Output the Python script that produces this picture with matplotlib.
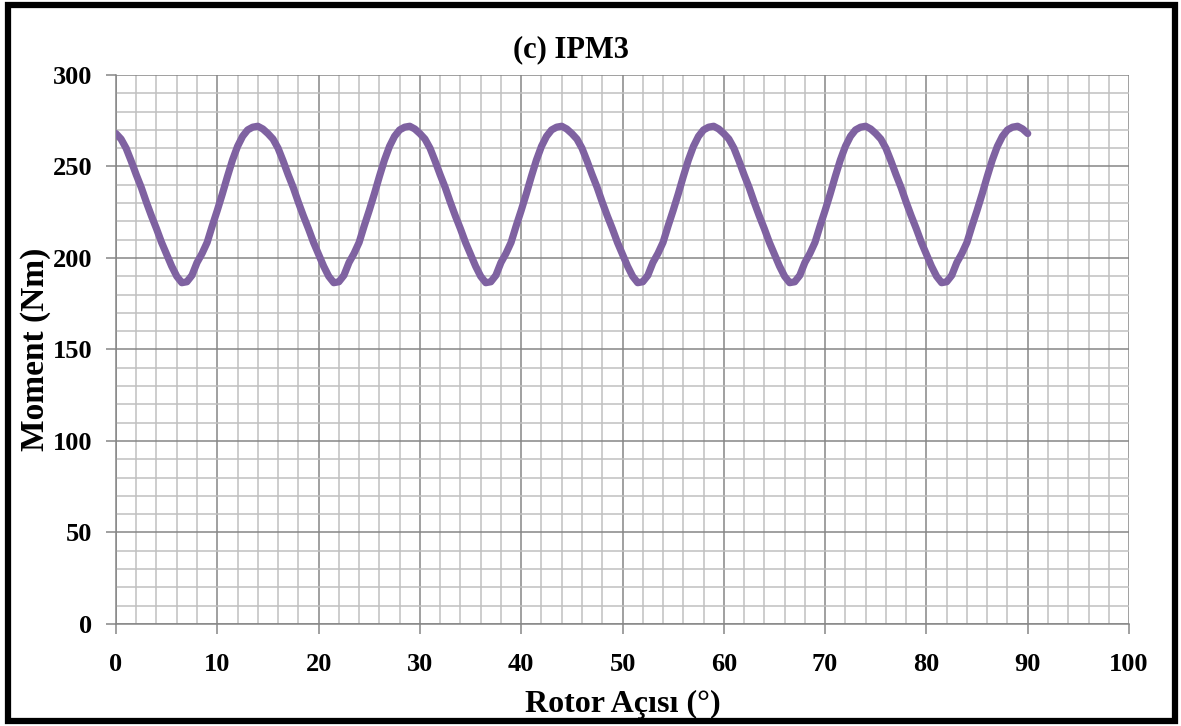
import os

os.environ.setdefault("MPLBACKEND", "Agg")

import matplotlib.pyplot as plt
import numpy as np
from matplotlib.patches import Rectangle
from matplotlib.ticker import MultipleLocator

# rotor angle in degrees, sampled every 0.5
angle = np.arange(0, 90.5, 0.5)

# torque, one row per 15 deg cycle
moment = [
    268, 265, 260, 253, 245.5, 238.5, 230.5, 223, 216, 208.5, 202, 195.5, 190, 186.5, 187,
    190.5, 197.5, 202.5, 208.5, 217.5, 226, 235, 244.5, 253.5, 261, 266.5, 270, 271.5, 272, 270.5,
    268, 265, 260, 253, 245.5, 238.5, 230.5, 223, 216, 208.5, 202, 195.5, 190, 186.5, 187,
    190.5, 197.5, 202.5, 208.5, 217.5, 226, 235, 244.5, 253.5, 261, 266.5, 270, 271.5, 272, 270.5,
    268, 265, 260, 253, 245.5, 238.5, 230.5, 223, 216, 208.5, 202, 195.5, 190, 186.5, 187,
    190.5, 197.5, 202.5, 208.5, 217.5, 226, 235, 244.5, 253.5, 261, 266.5, 270, 271.5, 272, 270.5,
    268, 265, 260, 253, 245.5, 238.5, 230.5, 223, 216, 208.5, 202, 195.5, 190, 186.5, 187,
    190.5, 197.5, 202.5, 208.5, 217.5, 226, 235, 244.5, 253.5, 261, 266.5, 270, 271.5, 272, 270.5,
    268, 265, 260, 253, 245.5, 238.5, 230.5, 223, 216, 208.5, 202, 195.5, 190, 186.5, 187,
    190.5, 197.5, 202.5, 208.5, 217.5, 226, 235, 244.5, 253.5, 261, 266.5, 270, 271.5, 272, 270.5,
    268, 265, 260, 253, 245.5, 238.5, 230.5, 223, 216, 208.5, 202, 195.5, 190, 186.5, 187,
    190.5, 197.5, 202.5, 208.5, 217.5, 226, 235, 244.5, 253.5, 261, 266.5, 270, 271.5, 272, 270.5,
    268,
]

TITLE = "(c) IPM3"
XLABEL = "Rotor Açısı (°)"
YLABEL = "Moment (Nm)"

plt.rcParams["font.family"] = ["Liberation Serif", "DejaVu Serif"]
plt.rcParams["font.weight"] = "bold"

fig = plt.figure(figsize=(11.81, 7.26), dpi=100)
ax = fig.add_axes([0.0982, 0.1405, 0.9560 - 0.0982, 0.8967 - 0.1405])

ax.plot(angle, moment, color="#7f62a1", lw=5.2, solid_capstyle="round",
        solid_joinstyle="round", zorder=3)

ax.set_xlim(0, 100)
ax.set_ylim(0, 300)
ax.xaxis.set_major_locator(MultipleLocator(10))
ax.xaxis.set_minor_locator(MultipleLocator(2))
ax.yaxis.set_major_locator(MultipleLocator(50))
ax.yaxis.set_minor_locator(MultipleLocator(10))

ax.grid(which="major", color="#868686", lw=1.1, zorder=1)
ax.grid(which="minor", color="#c0c0c0", lw=1.1, zorder=0)
ax.set_axisbelow(True)

for side in ["top", "right"]:
    ax.spines[side].set_visible(False)
for side in ["left", "bottom"]:
    ax.spines[side].set_color("#868686")
    ax.spines[side].set_linewidth(1.1)

ax.tick_params(which="major", direction="out", length=7, width=1.1, color="#868686",
               labelsize=19, pad=14)
ax.tick_params(which="minor", length=0)
ax.tick_params(axis="y", pad=10)
for lab in ax.get_xticklabels() + ax.get_yticklabels():
    lab.set_fontweight("bold")

ax.set_xlabel(XLABEL, fontsize=23, fontweight="bold", labelpad=10)
ax.set_ylabel(YLABEL, fontsize=24, fontweight="bold", labelpad=1)
fig.text(0.4835, 0.931, TITLE, fontsize=22, fontweight="bold", ha="center", va="center")

# thick black frame round the whole chart
fig.patches.append(Rectangle((0.0068, 0.0062), 0.9949 - 0.0068, 0.9938 - 0.0062,
                             transform=fig.transFigure, fill=False, ec="black", lw=4.5))

fig.savefig("out.png", dpi=100)
plt.close(fig)
